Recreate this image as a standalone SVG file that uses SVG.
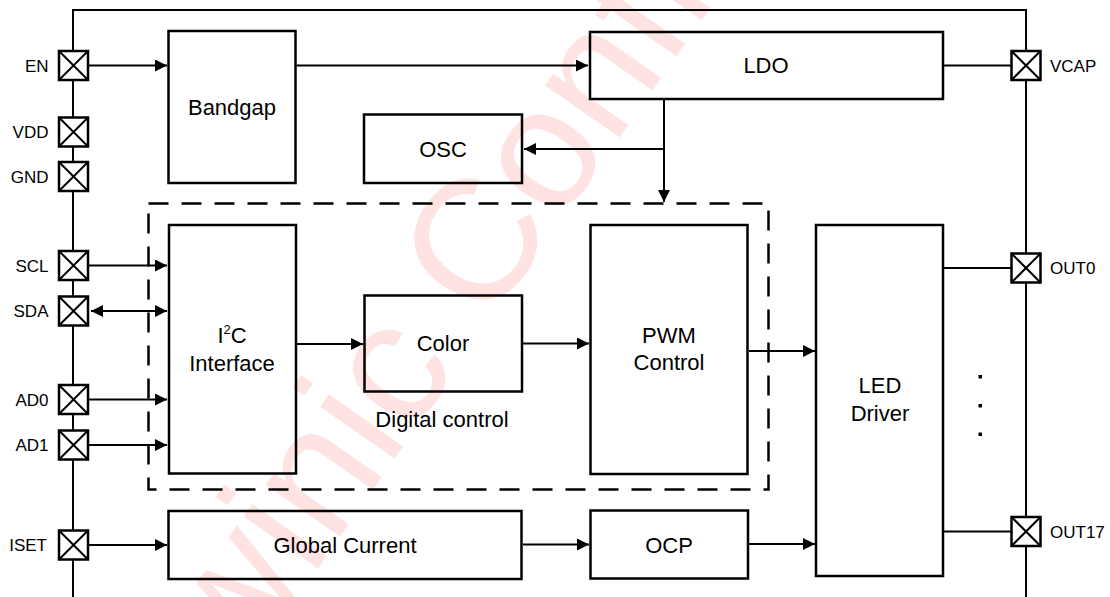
<svg xmlns="http://www.w3.org/2000/svg" width="1110" height="597" viewBox="0 0 1110 597">
<defs>
<marker id="arr" markerUnits="userSpaceOnUse" markerWidth="13" markerHeight="12" refX="12" refY="6" orient="auto-start-reverse">
<path d="M0,0 L12,6 L0,12 z" fill="#000"/>
</marker>
<style>
.wm{font-family:"Liberation Sans",Arial,sans-serif;font-size:172px;fill:#ff0000;fill-opacity:0.11}
.box{fill:none;stroke:#000;stroke-width:2.5}
.pin rect{fill:#fff;stroke:#000;stroke-width:2.5}
.pin line{stroke:#000;stroke-width:2}
.plbl{font-family:"Liberation Sans",Arial,sans-serif;font-size:17px;fill:#000}
.lbl{font-family:"Liberation Sans",Arial,sans-serif;font-size:22px;fill:#000;text-anchor:middle}
.wire{fill:none;stroke:#000;stroke-width:2}
.arrow{marker-end:url(#arr)}
.dash{fill:none;stroke:#000;stroke-width:2.5;stroke-dasharray:20 13}
</style>
</defs>
<rect width="1110" height="597" fill="#fff"/>
<text class="wm" transform="translate(176,771) rotate(-55)">Awinic Confidential</text>

<g id="frame"><path d="M73,597 V10 H1026 V597" class="wire" stroke-width="2.5"/></g>

<g id="digital-control">
<rect class="dash" x="148.5" y="203.5" width="620" height="286"/>
<text class="lbl" x="442" y="427">Digital control</text>
</g>

<g id="connectors">
<path class="wire arrow" d="M89,65.5 H167"/>
<path class="wire arrow" d="M296,65.5 H588"/>
<path class="wire" d="M944,65.5 H1011"/>
<path class="wire arrow" d="M664,100 V202"/>
<path class="wire arrow" d="M664,149 H524"/>
<path class="wire arrow" d="M89,265.5 H167"/>
<path class="wire arrow" d="M91,311 H167" marker-start="url(#arr)"/>
<path class="wire arrow" d="M89,399.5 H167"/>
<path class="wire arrow" d="M89,445 H167"/>
<path class="wire arrow" d="M89,545 H167"/>
<path class="wire arrow" d="M297,344 H363"/>
<path class="wire arrow" d="M523,343.5 H589"/>
<path class="wire arrow" d="M749,351 H815"/>
<path class="wire arrow" d="M523,544.5 H589"/>
<path class="wire arrow" d="M749,544 H815"/>
<path class="wire" d="M944,268 H1011"/>
<path class="wire" d="M944,531.5 H1011"/>
</g>

<g id="bandgap"><rect class="box" x="168.5" y="31" width="127" height="152"/><text class="lbl" x="232" y="115">Bandgap</text></g>
<g id="ldo"><rect class="box" x="590" y="32" width="353" height="67"/><text class="lbl" x="766" y="73">LDO</text></g>
<g id="osc"><rect class="box" x="364" y="114.5" width="158" height="68.5"/><text class="lbl" x="443" y="157">OSC</text></g>
<g id="i2c"><rect class="box" x="169" y="225" width="127" height="248.5"/><text class="lbl" x="232" y="343">I<tspan font-size="13" dy="-9">2</tspan><tspan dy="9">C</tspan></text><text class="lbl" x="232" y="371">Interface</text></g>
<g id="color"><rect class="box" x="364.5" y="295.5" width="157.5" height="96"/><text class="lbl" x="443" y="351">Color</text></g>
<g id="pwm"><rect class="box" x="590.5" y="225" width="157" height="249"/><text class="lbl" x="669" y="343">PWM</text><text class="lbl" x="669" y="370">Control</text></g>
<g id="led-driver"><rect class="box" x="816" y="225" width="127" height="351"/><text class="lbl" x="880" y="393">LED</text><text class="lbl" x="880" y="421">Driver</text>
<rect x="978.5" y="375" width="3.5" height="3.5"/><rect x="978.5" y="404" width="3.5" height="3.5"/><rect x="978.5" y="432.5" width="3.5" height="3.5"/></g>
<g id="global-current"><rect class="box" x="168.5" y="511" width="353" height="68"/><text class="lbl" x="345" y="553">Global Current</text></g>
<g id="ocp"><rect class="box" x="590.5" y="510.5" width="157.5" height="68"/><text class="lbl" x="669" y="553">OCP</text></g>

<g id="pin-en" class="pin"><rect x="59" y="51" width="29" height="29"/><line x1="59" y1="51" x2="88" y2="80"/><line x1="88" y1="51" x2="59" y2="80"/><text class="plbl" x="48.5" y="71.5" text-anchor="end">EN</text></g>
<g id="pin-vdd" class="pin"><rect x="59" y="117.5" width="29" height="29"/><line x1="59" y1="117.5" x2="88" y2="146.5"/><line x1="88" y1="117.5" x2="59" y2="146.5"/><text class="plbl" x="48.5" y="138" text-anchor="end">VDD</text></g>
<g id="pin-gnd" class="pin"><rect x="59" y="162" width="29" height="29"/><line x1="59" y1="162" x2="88" y2="191"/><line x1="88" y1="162" x2="59" y2="191"/><text class="plbl" x="48.5" y="182.5" text-anchor="end">GND</text></g>
<g id="pin-scl" class="pin"><rect x="59" y="251" width="29" height="29"/><line x1="59" y1="251" x2="88" y2="280"/><line x1="88" y1="251" x2="59" y2="280"/><text class="plbl" x="48.5" y="271.5" text-anchor="end">SCL</text></g>
<g id="pin-sda" class="pin"><rect x="59" y="296.5" width="29" height="29"/><line x1="59" y1="296.5" x2="88" y2="325.5"/><line x1="88" y1="296.5" x2="59" y2="325.5"/><text class="plbl" x="48.5" y="317" text-anchor="end">SDA</text></g>
<g id="pin-ad0" class="pin"><rect x="59" y="385" width="29" height="29"/><line x1="59" y1="385" x2="88" y2="414"/><line x1="88" y1="385" x2="59" y2="414"/><text class="plbl" x="48.5" y="405.5" text-anchor="end">AD0</text></g>
<g id="pin-ad1" class="pin"><rect x="59" y="430.5" width="29" height="29"/><line x1="59" y1="430.5" x2="88" y2="459.5"/><line x1="88" y1="430.5" x2="59" y2="459.5"/><text class="plbl" x="48.5" y="451" text-anchor="end">AD1</text></g>
<g id="pin-iset" class="pin"><rect x="59" y="530.5" width="29" height="29"/><line x1="59" y1="530.5" x2="88" y2="559.5"/><line x1="88" y1="530.5" x2="59" y2="559.5"/><text class="plbl" x="47" y="551" text-anchor="end">ISET</text></g>

<g id="pin-vcap" class="pin"><rect x="1011.5" y="51" width="29" height="29"/><line x1="1011.5" y1="51" x2="1040.5" y2="80"/><line x1="1040.5" y1="51" x2="1011.5" y2="80"/><text class="plbl" x="1050" y="71.5">VCAP</text></g>
<g id="pin-out0" class="pin"><rect x="1011.5" y="253.5" width="29" height="29"/><line x1="1011.5" y1="253.5" x2="1040.5" y2="282.5"/><line x1="1040.5" y1="253.5" x2="1011.5" y2="282.5"/><text class="plbl" x="1050" y="274">OUT0</text></g>
<g id="pin-out17" class="pin"><rect x="1011.5" y="517" width="29" height="29"/><line x1="1011.5" y1="517" x2="1040.5" y2="546"/><line x1="1040.5" y1="517" x2="1011.5" y2="546"/><text class="plbl" x="1050" y="537.5">OUT17</text></g>
</svg>
